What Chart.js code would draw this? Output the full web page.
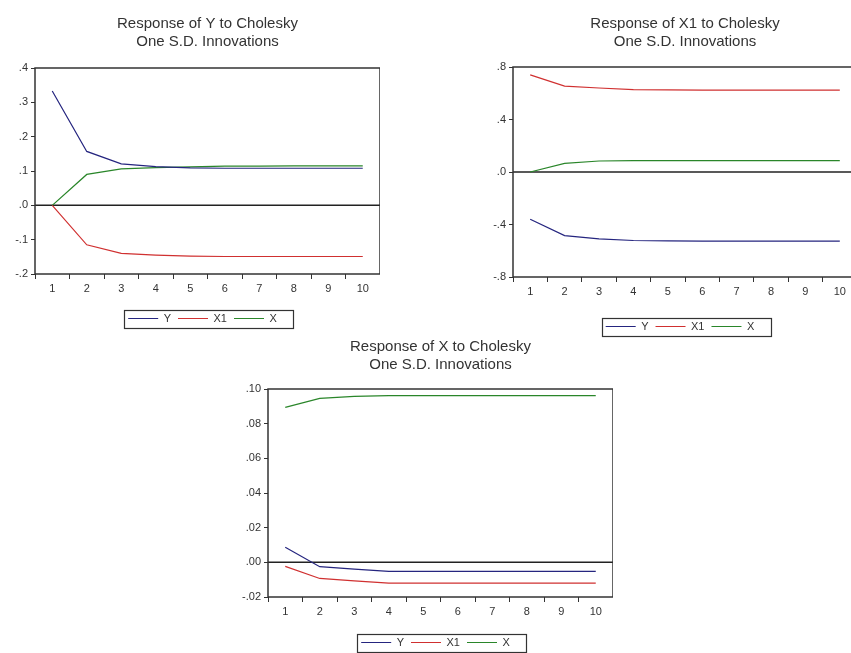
<!DOCTYPE html>
<html><head><meta charset="utf-8">
<script src="https://cdn.jsdelivr.net/npm/chart.js@4/dist/chart.umd.min.js"></script>
<style>
html,body{margin:0;padding:0;background:#fff;overflow:hidden;width:851px;height:653px;}
canvas{position:absolute;}
</style></head><body>
<canvas id="c1" width="380" height="334" style="left:0px;top:0px"></canvas>
<canvas id="c2" width="379" height="342" style="left:478px;top:0px"></canvas>
<canvas id="c3" width="380" height="338" style="left:233px;top:320px"></canvas>
<script>
// ---- data ----
const periods = ['1','2','3','4','5','6','7','8','9','10'];
const seriesNames = ['Y','X1','X'];
const seriesColors = ['#25257f','#d03030','#2a862a'];

// Response of Y
const respY_Y  = [0.333, 0.157, 0.121, 0.113, 0.109, 0.108, 0.108, 0.108, 0.108, 0.108];
const respY_X1 = [0.000, -0.115, -0.140, -0.145, -0.148, -0.149, -0.149, -0.149, -0.149, -0.149];
const respY_X  = [0.000, 0.090, 0.106, 0.110, 0.112, 0.114, 0.114, 0.115, 0.115, 0.115];
const yTicks1  = [-0.2, -0.1, 0, 0.1, 0.2, 0.3, 0.4];
const yLabels1 = ['-.2', '-.1', '.0', '.1', '.2', '.3', '.4'];

// Response of X1
const respX1_Y  = [-0.360, -0.485, -0.510, -0.522, -0.525, -0.526, -0.526, -0.526, -0.526, -0.526];
const respX1_X1 = [0.740, 0.655, 0.640, 0.628, 0.625, 0.624, 0.624, 0.624, 0.624, 0.624];
const respX1_X  = [0.000, 0.066, 0.084, 0.087, 0.087, 0.087, 0.087, 0.087, 0.087, 0.087];
const yTicks2  = [-0.8, -0.4, 0, 0.4, 0.8];
const yLabels2 = ['-.8', '-.4', '.0', '.4', '.8'];

// Response of X
const respX_Y  = [0.0087, -0.0025, -0.0039, -0.0052, -0.0052, -0.0052, -0.0052, -0.0052, -0.0052, -0.0052];
const respX_X1 = [-0.0023, -0.0093, -0.0107, -0.0120, -0.0120, -0.0120, -0.0120, -0.0120, -0.0120, -0.0120];
const respX_X  = [0.0894, 0.0946, 0.0958, 0.0962, 0.0962, 0.0962, 0.0962, 0.0962, 0.0962, 0.0962];
const yTicks3  = [-0.02, 0, 0.02, 0.04, 0.06, 0.08, 0.10];
const yLabels3 = ['-.02', '.00', '.02', '.04', '.06', '.08', '.10'];

const titles = [
  ['Response of Y to Cholesky', 'One S.D. Innovations'],
  ['Response of X1 to Cholesky', 'One S.D. Innovations'],
  ['Response of X to Cholesky', 'One S.D. Innovations']
];

// ---- rendering ----
Chart.defaults.font.family = 'Arial, "Liberation Sans", sans-serif';
Chart.defaults.color = '#333';

const framePlugin = {
  id: 'frame',
  afterLayout(chart) {
    if (chart.legend) { chart.legend.left -= 5; chart.legend.right -= 5; }
  },
  beforeDatasetsDraw(chart) {
    const {ctx, chartArea: a, scales: {y}} = chart;
    const z = y.getPixelForValue(0);
    ctx.save();
    ctx.strokeStyle = '#222';
    ctx.lineWidth = 1.5;
    ctx.beginPath();
    ctx.moveTo(a.left, z); ctx.lineTo(a.right, z);
    ctx.stroke();
    ctx.restore();
  },
  afterDraw(chart) {
    const {ctx, chartArea: a} = chart;
    ctx.save();
    ctx.strokeStyle = '#333';
    ctx.lineWidth = 1.5;
    ctx.strokeRect(a.left, a.top, a.right - a.left, a.bottom - a.top);
    const hb = chart.legend && chart.legend.legendHitBoxes;
    if (hb && hb.length) {
      let l = Infinity, r = -Infinity, cy = 0;
      hb.forEach(b => { l = Math.min(l, b.left); r = Math.max(r, b.left + b.width); cy = b.top + b.height / 2; });
      ctx.lineWidth = 1.2;
      ctx.strokeRect(Math.round(l - 4) + 0.5, Math.round(cy - 9) + 0.5, Math.round(r - l + 20), 18);
    }
    ctx.restore();
  }
};

function makeChart(id, title, vals, tickVals, tickLabels, g) {
  return new Chart(document.getElementById(id), {
    type: 'line',
    data: {
      labels: periods,
      datasets: vals.map((v, i) => ({
        label: seriesNames[i], data: v, borderColor: seriesColors[i], backgroundColor: seriesColors[i],
        borderWidth: 1.2, pointRadius: 0, tension: 0, fill: false
      }))
    },
    options: {
      responsive: false, animation: false,
      layout: {padding: 0},
      plugins: {
        tooltip: {enabled: false},
        title: {
          display: true, text: title, fullSize: false, color: '#333',
          font: {size: 15, weight: 'normal', lineHeight: 1.2},
          padding: {top: g.tt, bottom: g.tb}
        },
        legend: {
          display: true, position: 'bottom', fullSize: false,
          labels: {
            boxWidth: 30, boxHeight: 1, padding: 7, color: '#333', font: {size: 11},
            generateLabels(chart) {
              return Chart.defaults.plugins.legend.labels.generateLabels(chart)
                .map(l => Object.assign(l, {fillStyle: l.strokeStyle, lineWidth: 0}));
            }
          }
        }
      },
      scales: {
        x: {
          type: 'category', offset: true,
          grid: {offset: true, drawOnChartArea: false, tickLength: 5, color: '#333', lineWidth: 1},
          border: {display: false},
          ticks: {padding: 3, font: {size: 11}, color: '#333', maxRotation: 0, autoSkip: false},
          afterFit(s) { s.height = g.xh; }
        },
        y: {
          min: tickVals[0], max: tickVals[tickVals.length - 1],
          grid: {drawOnChartArea: false, tickLength: 4, color: '#333', lineWidth: 1},
          border: {display: false},
          ticks: {
            padding: 3, font: {size: 11}, color: '#333',
            callback(v) {
              const k = tickVals.findIndex(t => Math.abs(t - v) < 1e-9);
              return k >= 0 ? tickLabels[k] : '';
            }
          },
          afterBuildTicks(s) { s.ticks = tickVals.map(v => ({value: v})); },
          afterFit(s) { s.width = 35; }
        }
      }
    },
    plugins: [framePlugin]
  });
}

makeChart('c1', titles[0], [respY_Y, respY_X1, respY_X], yTicks1, yLabels1, {tt: 15, tb: 17, xh: 32});
makeChart('c2', titles[1], [respX1_Y, respX1_X1, respX1_X], yTicks2, yLabels2, {tt: 15, tb: 16, xh: 37});
makeChart('c3', titles[2], [respX_Y, respX_X1, respX_X], yTicks3, yLabels3, {tt: 18, tb: 15, xh: 33});
</script>
</body></html>
